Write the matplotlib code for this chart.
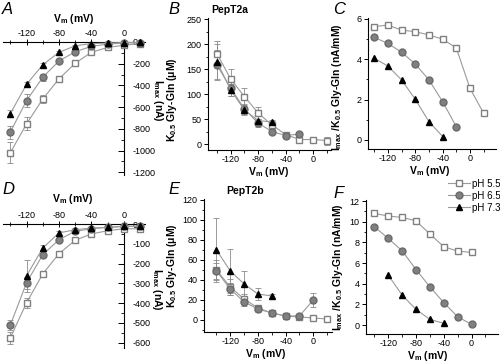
import numpy as np
import matplotlib
matplotlib.use("Agg")
import matplotlib.pyplot as plt
from matplotlib.ticker import MultipleLocator

plt.rcParams['font.family'] = ['Liberation Sans', 'DejaVu Sans']
plt.rcParams['mathtext.default'] = 'regular'
plt.rcParams['axes.unicode_minus'] = False

nan = np.nan
V = [-140, -120, -100, -80, -60, -40, -20, 0, 20]

# A: Imax (nA), PepT2a
a55 = [-1020, -755, -525, -340, -195, -95, -50, -30, -15]
a55_err = [95, 60, 40, 20, 15, 10, 5, 5, 5]
a65 = [-830, -540, -325, -175, -90, -40, -20, -10, -5]
a65_err = [60, 60, 30, 15, 10, 5, 5, 5, 5]
a73 = [-660, -390, -210, -95, -35, -15, -10, -5, -3]
a73_err = [30, 20, 15, 10, 5, 5, 5, 5, 5]

# B: K0.5 (uM), PepT2a
b55 = [181, 130, 95, 62, 38, 19, 9, 9, 7]
b55_err = [25, 20, 18, 12, 8, 6, 5, 5, 8]
b65 = [158, 112, 70, 42, 25, 17, 20, nan, nan]
b65_err = [30, 15, 10, 8, 5, 5, 5, 0, 0]
b73 = [165, 108, 68, 47, 44, nan, nan, nan, nan]
b73_err = [35, 12, 10, 10, 5, 0, 0, 0, 0]

# C: Imax/K0.5 (nA/mM), PepT2a
c55 = [5.62, 5.70, 5.45, 5.37, 5.21, 5.00, 4.56, 2.56, 1.32]
c65 = [5.09, 4.79, 4.35, 3.77, 2.98, 1.90, 0.66, nan, nan]
c73 = [4.05, 3.67, 2.98, 2.02, 0.91, 0.17, nan, nan, nan]

# D: Imax (nA), PepT2b
d55 = [-575, -398, -252, -150, -82, -50, -34, -24, -24]
d55_err = [30, 25, 10, 10, 8, 8, 5, 5, 5]
d65 = [-511, -297, -155, -79, -37, -24, -17, -12, -10]
d65_err = [25, 30, 10, 10, 5, 5, 5, 5, 5]
d73 = [nan, -262, -121, -45, -29, -20, -17, -12, -12]
d73_err = [0, 80, 15, 10, 5, 5, 5, 5, 5]

# E: K0.5 (uM), PepT2b
e55 = [50, 33, 21, 12, 7, 4, 3, 2, 1]
e55_err = [10, 8, 5, 3, 2, 2, 2, 1, 1]
e65 = [49, 31, 18, 11, 7, 4, 4, 20, nan]
e65_err = [8, 6, 4, 3, 2, 2, 2, 7, 0]
e73 = [70, 49, 36, 26, 24, nan, nan, nan, nan]
e73_err = [32, 22, 13, 6, 2, 0, 0, 0, 0]

# F: Imax/K0.5 (nA/mM), PepT2b
f55 = [10.81, 10.55, 10.42, 10.09, 8.81, 7.58, 7.16, 7.03, nan]
f65 = [9.52, 8.39, 7.19, 5.37, 3.70, 2.16, 0.80, 0.06, nan]
f73 = [nan, 4.83, 2.90, 1.51, 0.55, 0.16, nan, nan, nan]

labels = ['pH 5.5', 'pH 6.5', 'pH 7.3']
styles = [dict(marker='s', mfc='white', mec='#808080', ms=4.5),
          dict(marker='o', mfc='#808080', mec='#6a6a6a', ms=5),
          dict(marker='^', mfc='black', mec='black', ms=5)]
LINE = '#9a9a9a'
FS = 6.5
LFS = 7.5

fig = plt.figure(figsize=(5, 3.62), dpi=100)


def draw(ax, series, errs=None):
    handles = []
    for i, (y, st) in enumerate(zip(series, styles)):
        y = np.array(y, dtype=float)
        ok = ~np.isnan(y)
        x = np.array(V)[ok]
        if errs is not None:
            ax.errorbar(x, y[ok], yerr=np.array(errs[i], dtype=float)[ok], fmt='none',
                        ecolor='#8a8a8a', elinewidth=0.6, capsize=2, capthick=0.6,
                        zorder=2, clip_on=False)
        h, = ax.plot(x, y[ok], color=LINE, lw=0.8, zorder=3, clip_on=False,
                     label=labels[i], **st)
        handles.append(h)
    return handles


def iv_axes(ax, xlim, ylim, major, minor, lx, ly, ry, rx):
    ax.set_xlim(*xlim)
    ax.set_ylim(*ylim)
    ax.patch.set_visible(False)
    ax.spines['left'].set_visible(False)
    ax.spines['bottom'].set_visible(False)
    ax.spines['top'].set_position(('data', 0))
    ax.spines['right'].set_position(('data', 0))
    ax.xaxis.set_ticks_position('top')
    ax.yaxis.set_ticks_position('right')
    ax.set_xticks([-120, -80, -40, 0])
    ax.xaxis.set_minor_locator(MultipleLocator(20))
    ax.yaxis.set_major_locator(MultipleLocator(major))
    ax.yaxis.set_minor_locator(MultipleLocator(minor))
    ax.tick_params(axis='x', which='both', direction='inout', labelsize=FS, pad=1)
    ax.tick_params(axis='y', which='both', direction='in', labelsize=FS, pad=6)
    ax.tick_params(which='major', length=4, width=0.7)
    ax.tick_params(which='minor', length=2.5, width=0.6)
    for s in ax.spines.values():
        s.set_linewidth(0.8)
    ax.set_xlabel('V$_m$ (mV)', fontsize=LFS, fontweight='bold', va='center')
    ax.xaxis.set_label_coords(lx, ly)
    ax.set_ylabel('I$_{max}$ (nA)', fontsize=LFS, fontweight='bold', rotation=270, va='center')
    ax.yaxis.set_label_coords(rx, ry)


def std_axes(ax, xlim, ylim, major, minor, ylabel, xl, yl):
    ax.set_xlim(*xlim)
    ax.set_ylim(*ylim)
    ax.patch.set_visible(False)
    ax.spines['top'].set_visible(False)
    ax.spines['right'].set_visible(False)
    ax.set_xticks([-120, -80, -40, 0])
    ax.xaxis.set_minor_locator(MultipleLocator(20))
    ax.yaxis.set_major_locator(MultipleLocator(major))
    ax.yaxis.set_minor_locator(MultipleLocator(minor))
    ax.tick_params(which='both', direction='out', labelsize=FS, pad=1.5)
    ax.tick_params(axis='x', pad=0.8)
    ax.tick_params(which='major', length=3, width=0.7)
    ax.tick_params(which='minor', length=1.8, width=0.6)
    for s in ax.spines.values():
        s.set_linewidth(0.8)
    ax.set_xlabel('V$_m$ (mV)', fontsize=LFS, fontweight='bold', va='top')
    ax.xaxis.set_label_coords(*xl)
    ax.set_ylabel(ylabel, fontsize=7.5, fontweight='bold', va='center')
    ax.yaxis.set_label_coords(*yl)


# A
axA = fig.add_axes([0.006, 0.5166, 0.284, 0.3674])
draw(axA, [a55, a65, a73], [a55_err, a65_err, a73_err])
iv_axes(axA, (-149, 26), (-1225, 0), 200, 100, 0.5, 1.17, 0.56, 1.09)

# D
axD = fig.add_axes([0.006, 0.0394, 0.284, 0.3418])
draw(axD, [d55, d65, d73], [d55_err, d65_err, d73_err])
iv_axes(axD, (-149, 26), (-625, 0), 100, 50, 0.49, 1.20, 0.47, 1.085)

# B
axB = fig.add_axes([0.416, 0.5856, 0.246, 0.3646])
draw(axB, [b55, b65, b73], [b55_err, b65_err, b73_err])
std_axes(axB, (-153, 26), (-12, 252), 50, 25, 'K$_{0.5}$ Gly-Gln ($\\mu$M)',
         (0.49, -0.115), (-0.29, 0.38))

# E
axE = fig.add_axes([0.408, 0.0829, 0.256, 0.3674])
draw(axE, [e55, e65, e73], [e55_err, e65_err, e73_err])
std_axes(axE, (-158, 27), (-12, 121), 20, 10, 'K$_{0.5}$ Gly-Gln ($\\mu$M)',
         (0.48, -0.115), (-0.25, 0.5))

# C
axC = fig.add_axes([0.736, 0.5884, 0.256, 0.3619])
draw(axC, [c55, c65, c73])
std_axes(axC, (-149, 38), (-0.45, 6.05), 2, 1,
         'I$_{max}$ /K$_{0.5}$ Gly-Gln (nA/mM)', (0.48, -0.115), (-0.24, 0.47))

# F
axF = fig.add_axes([0.732, 0.0773, 0.264, 0.370])
hF = draw(axF, [f55, f65, f73])
std_axes(axF, (-152, 38), (-0.87, 12.1), 2, 1,
         'I$_{max}$ /K$_{0.5}$ Gly-Gln (nA/mM)', (0.47, -0.11), (-0.21, 0.5))

fig.legend(handles=hF, loc='upper right', bbox_to_anchor=(1.01, 1 - 175 / 362),
           frameon=False, fontsize=7, handlelength=2.2, handletextpad=0.3,
           labelspacing=0.2, borderaxespad=0)

# panel letters and titles
for lab, x, y in [('A', 2, 2), ('B', 168, 2), ('C', 333, 2),
                  ('D', 2, 182), ('E', 168, 182), ('F', 333, 186)]:
    fig.text(x / 500, 1 - y / 362, lab, fontsize=12, style='italic', va='top', ha='left')
fig.text(230 / 500, 1 - 10 / 362, 'PepT2a', fontsize=7.5, fontweight='bold', ha='center', va='center')
fig.text(245 / 500, 1 - 191 / 362, 'PepT2b', fontsize=7.5, fontweight='bold', ha='center', va='center')

fig.savefig('out.png', dpi=100)
